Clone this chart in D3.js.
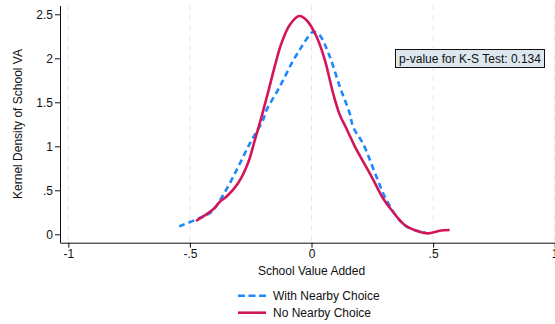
<!DOCTYPE html>
<html>
<head>
<meta charset="utf-8">
<script src="https://cdn.jsdelivr.net/npm/d3@7"></script>
<style>
  body { margin: 0; background: #fff; }
  svg { display: block; font-family: "Liberation Sans", Arial, sans-serif; }
</style>
</head>
<body>
<svg id="chart"></svg>
<script>
// densities
const withX = [-0.544, -0.473, -0.411, -0.363, -0.308, -0.254, -0.199, -0.185, -0.130, -0.082, -0.041, 0.000, 0.010, 0.034, 0.075, 0.116, 0.157, 0.171, 0.212, 0.267, 0.308, 0.356, 0.390, 0.432, 0.470]
const withY = [0.090, 0.170, 0.257, 0.447, 0.730, 1.030, 1.300, 1.410, 1.680, 1.940, 2.130, 2.290, 2.300, 2.260, 2.020, 1.680, 1.375, 1.220, 1.030, 0.655, 0.390, 0.180, 0.090, 0.040, 0.020]

const noX = [-0.475, -0.404, -0.377, -0.349, -0.302, -0.261, -0.233, -0.205, -0.178, -0.150, -0.125, -0.089, -0.051, -0.021, 0.021, 0.055, 0.089, 0.116, 0.144, 0.178, 0.247, 0.294, 0.329, 0.383, 0.432, 0.479, 0.527, 0.568]
const noY = [0.151, 0.284, 0.370, 0.430, 0.580, 0.810, 1.070, 1.340, 1.620, 1.920, 2.160, 2.380, 2.480, 2.435, 2.245, 1.980, 1.600, 1.360, 1.200, 1.000, 0.655, 0.410, 0.276, 0.106, 0.041, 0.011, 0.041, 0.049]

const xTicks = [-1, -0.5, 0, 0.5, 1]
const xTickLabels = ['-1', '-.5', '0', '.5', '1']
const yTicks = [0, 0.5, 1, 1.5, 2, 2.5]
const yTickLabels = ['0', '.5', '1', '1.5', '2', '2.5']

const seriesNames = ['With Nearby Choice', 'No Nearby Choice']
const pValueText = 'p-value for K-S Test: 0.134'

const width = 555, height = 324
const blue = '#1e88ff', red = '#d3155a'
const fontSize = 12

const svg = d3.select('#chart').attr('width', width).attr('height', height)

const xScale = d3.scaleLinear().domain([-1, 1]).range([68.3, 554.7])
const yScale = d3.scaleLinear().domain([0, 2.5]).range([234.3, 14.3])

/* grille verticale */
svg.append('g').selectAll('line')
  .data(xTicks)
  .enter()
  .append('line')
  .attr('x1', d => xScale(d)).attr('x2', d => xScale(d))
  .attr('y1', 5).attr('y2', 242)
  .attr('stroke', '#e9e9e9')
  .attr('stroke-width', 1)
  .attr('stroke-dasharray', '6,4')

/* axes */
const xAxis = d3.axisBottom(xScale)
  .tickValues(xTicks)
  .tickFormat((d, i) => xTickLabels[i])
  .tickSize(5).tickPadding(2).tickSizeOuter(0)
const gx = svg.append('g')
  .attr('transform', 'translate(0,242.7)')
  .call(xAxis)
gx.select('.domain').attr('d', 'M60.5,0.5H' + width)

const yAxis = d3.axisLeft(yScale)
  .tickValues(yTicks)
  .tickFormat((d, i) => yTickLabels[i])
  .tickSize(5).tickPadding(2).tickSizeOuter(0)
const gy = svg.append('g')
  .attr('transform', 'translate(60,0)')
  .call(yAxis)
gy.select('.domain').attr('d', 'M0.5,6V243')

svg.selectAll('.tick text').attr('font-size', fontSize).attr('fill', '#111')
  .style('font-family', '"Liberation Sans", Arial, sans-serif')
svg.selectAll('.tick line, .domain').attr('stroke', '#111')

/* courbes */
const line = d3.line()
  .x(d => xScale(d[0]))
  .y(d => yScale(d[1]))
  .curve(d3.curveCatmullRom.alpha(0.5))

svg.append('path')
  .datum(d3.zip(withX, withY))
  .attr('d', line)
  .attr('fill', 'none')
  .attr('stroke', blue)
  .attr('stroke-width', 2.6)
  .attr('stroke-dasharray', '6,4')

svg.append('path')
  .datum(d3.zip(noX, noY))
  .attr('d', line)
  .attr('fill', 'none')
  .attr('stroke', red)
  .attr('stroke-width', 2.6)
  .attr('stroke-linejoin', 'round')

/* boite p-value */
svg.append('rect')
  .attr('x', 395.5).attr('y', 49.5)
  .attr('width', 149).attr('height', 18)
  .attr('fill', '#dde7ed')
  .attr('stroke', '#111')
  .attr('stroke-width', 1)
svg.append('text')
  .attr('x', 470).attr('y', 62.8)
  .attr('text-anchor', 'middle')
  .attr('font-size', fontSize)
  .attr('fill', '#111')
  .text(pValueText)

/* titres des axes */
svg.append('text')
  .attr('x', 311.5).attr('y', 275)
  .attr('text-anchor', 'middle')
  .attr('font-size', fontSize)
  .attr('fill', '#111')
  .text('School Value Added')

svg.append('text')
  .attr('transform', 'translate(22,124) rotate(-90)')
  .attr('text-anchor', 'middle')
  .attr('font-size', fontSize)
  .attr('fill', '#111')
  .text('Kernel Density of School VA')

/* legende */
const legend = svg.append('g')
const legendY = [295.7, 312.7]
seriesNames.forEach((name, i) => {
  legend.append('line')
    .attr('x1', 238).attr('x2', 266)
    .attr('y1', legendY[i]).attr('y2', legendY[i])
    .attr('stroke', i === 0 ? blue : red)
    .attr('stroke-width', 2.6)
    .attr('stroke-dasharray', i === 0 ? '7,3.5' : null)
  legend.append('text')
    .attr('x', 273).attr('y', legendY[i] + 4.3)
    .attr('font-size', fontSize)
    .attr('fill', '#111')
    .text(name)
})
</script>
</body>
</html>
